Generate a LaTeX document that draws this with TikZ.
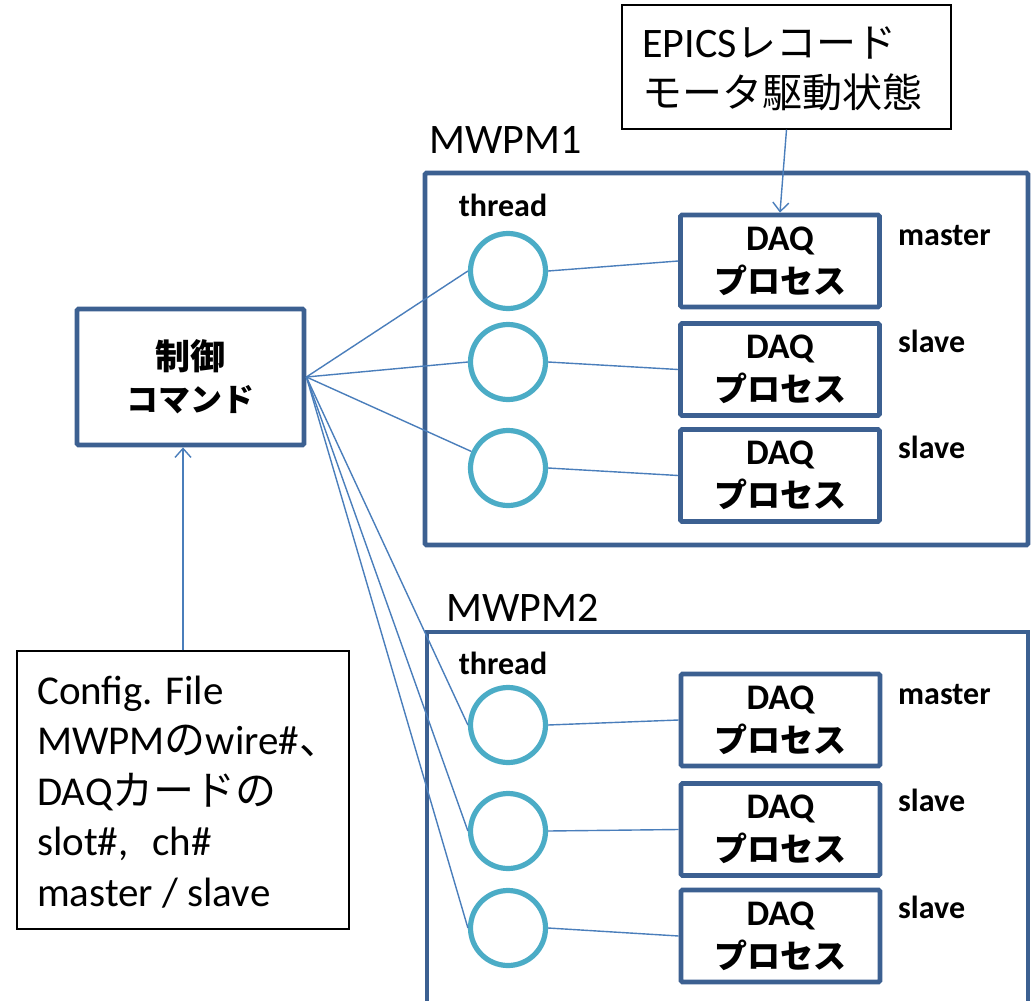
\documentclass[tikz,border=0pt]{standalone}
\usepackage{fontspec}
\setmainfont{Carlito}
\newfontfamily\jp{Noto Sans CJK JP}
\usetikzlibrary{arrows.meta}
\definecolor{boxblue}{RGB}{60,96,145}
\definecolor{thr}{RGB}{75,172,198}
\definecolor{conn}{RGB}{74,126,187}
\newcommand{\J}[1]{{\jp #1}}
\newcommand{\daqtext}{{\fontsize{36}{43}\selectfont DAQ}\\\J{プロセス}}
\tikzset{
  thickbox/.style={draw=boxblue, line width=4.8pt, rounded corners=1.5pt, inner sep=0pt},
  thinbox/.style={draw=black, line width=1.3pt, inner sep=0pt},
  daqbox/.style={thickbox, minimum width=199pt, minimum height=92pt, align=center,
     font=\fontsize{33}{43}\selectfont\bfseries},
  thread/.style={circle, draw=thr, line width=5.2pt, minimum size=75pt, inner sep=0pt},
  conline/.style={draw=conn, line width=1.4pt},
  conarrow/.style={conline, -{Straight Barb[length=9pt,width=16pt,line width=1.4pt]}},
  lbl/.style={font=\fontsize{32}{36}\selectfont\bfseries, inner sep=0pt},
  biglbl/.style={font=\fontsize{42}{50}\selectfont, inner sep=0pt}
}
\begin{document}
\begin{tikzpicture}[x=1pt,y=-1pt]
\useasboundingbox (0,0) rectangle (1031,1001);
\fill[white] (0,0) rectangle (1031,1001);

% top note
\node[thinbox, minimum width=329pt, minimum height=124pt] (top) at (786.5,67) {};
\node[anchor=west, align=left, inner sep=0pt, font=\fontsize{40}{50}\selectfont] (toptxt) at (642,69)
  {{\fontsize{42}{50}\selectfont EPICS}\J{レコード}\\\J{モータ駆動状態}};

% MWPM1 container
\node[thickbox, minimum width=603pt, minimum height=372pt] (m1) at (726.5,359) {};
\node[biglbl, anchor=west] (m1lbl) at (429,140) {MWPM1};
\node[lbl] (th1) at (503,205) {thread};

\node[thread] (a1) at (508,271) {};
\node[thread] (a2) at (508,362) {};
\node[thread] (a3) at (508,468) {};

\node[daqbox] (d1) at (780,261) {\daqtext};
\node[daqbox] (d2) at (780,369.5) {\daqtext};
\node[daqbox] (d3) at (780,475.5) {\daqtext};

\node[lbl, anchor=west] (l1) at (898,236) {master};
\node[lbl, anchor=west] (l2) at (898,341) {slave};
\node[lbl, anchor=west] (l3) at (898,447) {slave};

% MWPM2 container (cut off at bottom)
\coordinate (m2a) at (427,1010);
\coordinate (m2b) at (1028,632);
\draw[draw=boxblue, line width=4.8pt] (m2a) |- (m2b) -- (1028,1010);
\node[biglbl, anchor=west] (m2lbl) at (446,608) {MWPM2};
\node[lbl] (th2) at (503,663) {thread};

\node[thread] (b1) at (508,725) {};
\node[thread] (b2) at (508,831) {};
\node[thread] (b3) at (508,928) {};

\node[daqbox] (e1) at (780.5,720) {\daqtext};
\node[daqbox] (e2) at (780.5,829.5) {\daqtext};
\node[daqbox] (e3) at (780.5,936) {\daqtext};

\node[lbl, anchor=west] (k1) at (898,695) {master};
\node[lbl, anchor=west] (k2) at (898,800) {slave};
\node[lbl, anchor=west] (k3) at (898,907) {slave};

% control command
\node[thickbox, minimum width=227pt, minimum height=136pt, align=center,
  font=\fontsize{32}{42}\selectfont\bfseries] (cmd) at (190.5,377)
  {\J{\fontsize{35}{42}\selectfont 制御}\\\J{コマンド}};

% config file
\node[thinbox, minimum width=332pt, minimum height=278pt] (cfg) at (183,790) {};
\node[anchor=west, align=left, inner sep=0pt, font=\fontsize{41}{50.5}\selectfont] (cfgtxt) at (37,792)
  {Config. File\\MWPM\J{の}wire\#\J{、}\\DAQ\J{カードの}\\slot\#,\hspace{24pt}ch\#\\master / slave};

% connectors
\draw[conarrow] (top.south) -- (d1.north);
\draw[conarrow] (cfg.north) -- (cfg.north |- cmd.south);

\draw[conline] (cmd.east) -- (a1.west);
\draw[conline] (cmd.east) -- (a2.west);
\draw[conline] (cmd.east) -- (a3);
\draw[conline] (cmd.east) -- (b1.west);
\draw[conline] (cmd.east) -- (b2.west);
\draw[conline] (cmd.east) -- (b3.west);

\draw[conline] (a1.east) -- (d1.west);
\draw[conline] (a2.east) -- (d2.west);
\draw[conline] (a3.east) -- (d3.west);
\draw[conline] (b1.east) -- (e1.west);
\draw[conline] (b2.east) -- (e2.west);
\draw[conline] (b3.east) -- (e3.west);
\end{tikzpicture}
\end{document}
